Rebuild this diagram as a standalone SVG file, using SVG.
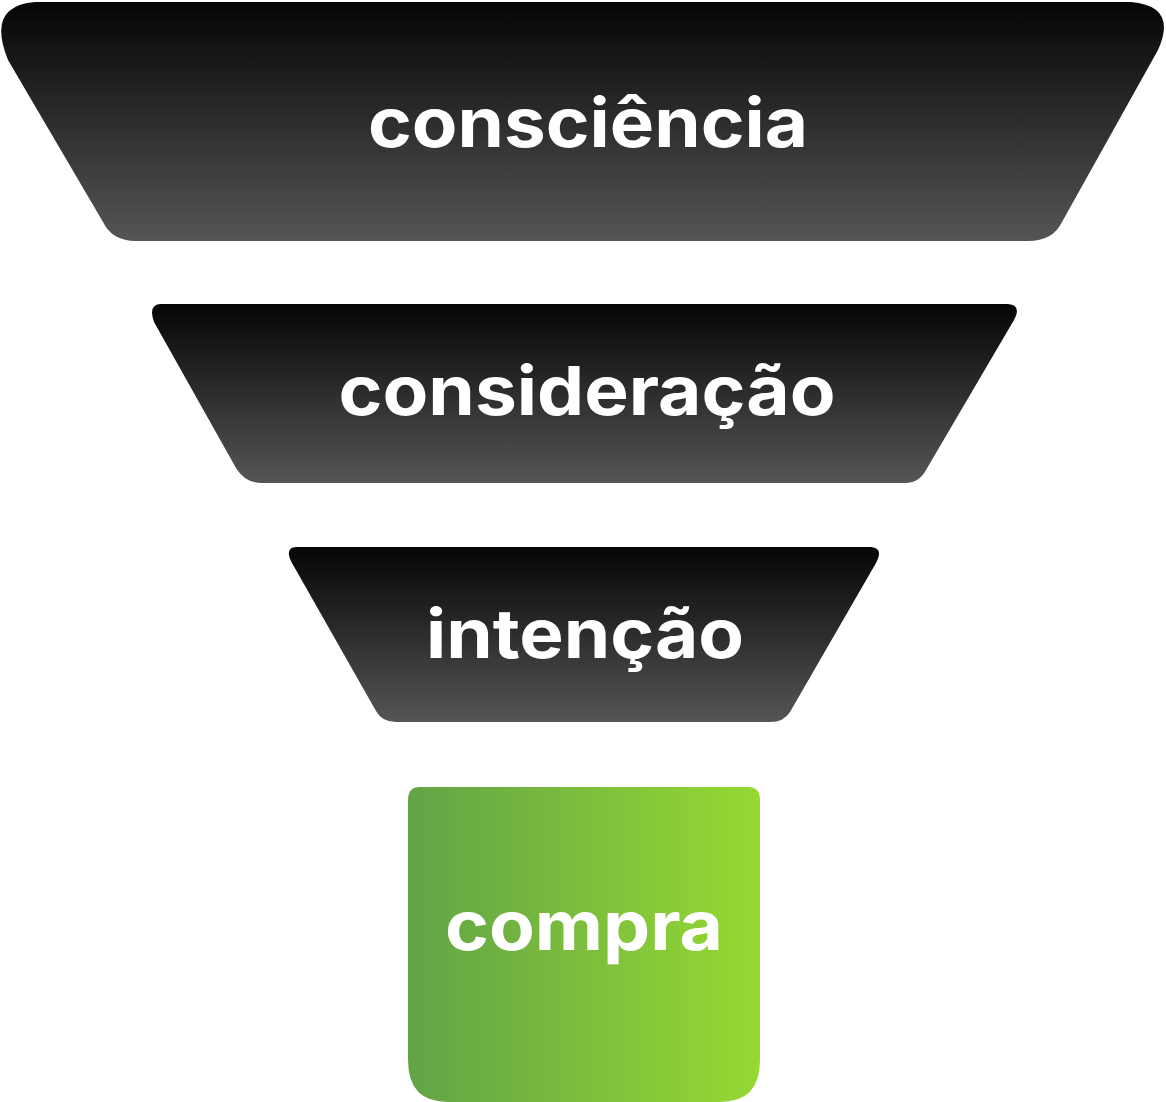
<svg xmlns="http://www.w3.org/2000/svg" width="1166" height="1102" viewBox="0 0 1166 1102">
<defs>
<linearGradient id="dark" x1="0" y1="0" x2="0" y2="1"><stop offset="0" stop-color="#050505"/><stop offset="1" stop-color="#555555"/></linearGradient>
<linearGradient id="green" x1="0" y1="0" x2="1" y2="0"><stop offset="0" stop-color="#62a347"/><stop offset="1" stop-color="#96d932"/></linearGradient>
</defs>
<style>.t{font-family:"Inter","Liberation Sans",sans-serif;font-weight:700;font-size:68px;fill:#fff;text-anchor:middle}</style>
<g id="consciencia">
<path d="M35,2 L1131,2 Q1178,6 1158,50 L1062,222 Q1053,241 1028,241 L136,241 Q112,241 103,222 L8,60 Q-14,6 35,2 Z" fill="url(#dark)"/>
<text class="t" x="588" y="147" textLength="440" lengthAdjust="spacingAndGlyphs">consciência</text>
</g>
<g id="consideracao">
<path d="M160,304 L1008,304 Q1022,305 1014,320 L926,470 Q919,483 905,483 L262,483 Q245,483 236,468 L154,322 Q148,305 160,304 Z" fill="url(#dark)"/>
<text class="t" x="587" y="415" textLength="497" lengthAdjust="spacingAndGlyphs">consideração</text>
</g>
<g id="intencao">
<path d="M296,547 L871,547 Q884,548 876,563 L790,712 Q784,722 770,722 L396,722 Q382,722 376,711 L292,563 Q284,548 296,547 Z" fill="url(#dark)"/>
<text class="t" x="585" y="658" textLength="318" lengthAdjust="spacingAndGlyphs">intenção</text>
</g>
<g id="compra">
<path d="M420,787 L748,787 Q760,787 760,800 L760,1060 Q760,1102 720,1102 L448,1102 Q408,1102 408,1060 L408,800 Q408,787 420,787 Z" fill="url(#green)"/>
<text class="t" x="584" y="950" textLength="278" lengthAdjust="spacingAndGlyphs">compra</text>
</g>
<g id="connectors"/>
</svg>
